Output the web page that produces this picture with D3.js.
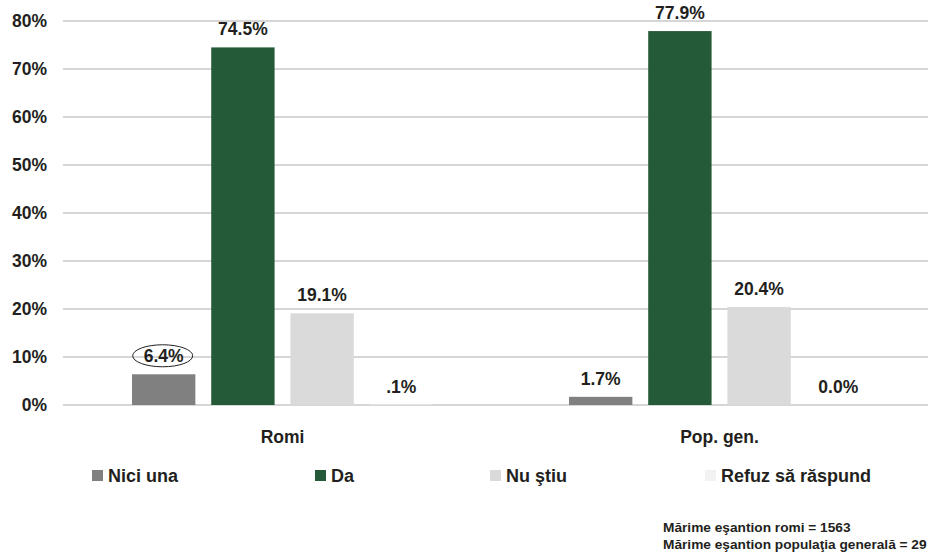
<!DOCTYPE html>
<html>
<head>
<meta charset="utf-8">
<script src="https://cdn.jsdelivr.net/npm/d3@7"></script>
<style>
  html, body { margin: 0; padding: 0; background: #fff; }
  svg { display: block; font-family: "Liberation Sans", Arial, sans-serif; font-weight: bold; }
</style>
</head>
<body>
<svg id="chart" width="928" height="557"></svg>
<script>
// Categories and series
const categories = ["Romi", "Pop. gen."];
const seriesNames = ["Nici una", "Da", "Nu ştiu", "Refuz să răspund"];
const seriesColors = ["#808080", "#245a37", "#d9dad9", "#f2f2f2"];
const niciUna = [6.4, 1.7];
const da = [74.5, 77.9];
const nuStiu = [19.1, 20.4];
const refuz = [0.1, 0.0];
const valueLabels = [["6.4%", "74.5%", "19.1%", ".1%"], ["1.7%", "77.9%", "20.4%", "0.0%"]];
const yTicks = [0, 10, 20, 30, 40, 50, 60, 70, 80];
const footnotes = ["Mărime eşantion romi = 1563", "Mărime eşantion populaţia generală = 29"];

const seriesValues = [niciUna, da, nuStiu, refuz];

const svg = d3.select("#chart");
const plot = { left: 64, right: 938, top: 21, bottom: 405 };

const y = d3.scaleLinear().domain([0, 80]).range([plot.bottom, plot.top]);
const x0 = d3.scaleBand().domain(categories).range([plot.left, plot.right]).paddingInner(0).paddingOuter(0);
const x1 = d3.scaleBand().domain(seriesNames).range([68, x0.bandwidth() - 68]).paddingInner(0.2).paddingOuter(0);

// Gridlines
svg.append("g").selectAll("line").data(yTicks).join("line")
  .attr("x1", 63).attr("x2", 928)
  .attr("y1", d => y(d)).attr("y2", d => y(d))
  .attr("stroke", "#c8c8c8").attr("stroke-width", 1.5);

// Y axis labels
const yAxis = d3.axisLeft(y).tickValues(yTicks).tickFormat(d => d + "%").tickSize(0).tickPadding(0);
const yG = svg.append("g").attr("transform", "translate(47,0)").call(yAxis);
yG.select(".domain").remove();
yG.selectAll("text").attr("font-size", 17.5).attr("fill", "#231f20")
  .attr("font-family", "'Liberation Sans', Arial, sans-serif").attr("font-weight", "bold");

// Bars
const groups = svg.append("g").selectAll("g").data(categories).join("g")
  .attr("transform", d => `translate(${x0(d)},0)`);

groups.each(function(cat, ci) {
  const g = d3.select(this);
  seriesNames.forEach((s, si) => {
    const v = seriesValues[si][ci];
    g.append("rect")
      .attr("x", x1(s)).attr("width", x1.bandwidth())
      .attr("y", y(v)).attr("height", y(0) - y(v))
      .attr("fill", seriesColors[si]);
    const lx = x1(s) + x1.bandwidth() / 2;
    const ly = y(v) - 12;
    g.append("text")
      .attr("x", lx).attr("y", ly)
      .attr("text-anchor", "middle").attr("font-size", 17.5).attr("fill", "#231f20")
      .text(valueLabels[ci][si]);
    if (ci === 0 && si === 0) {
      g.append("ellipse")
        .attr("cx", lx - 1).attr("cy", ly - 6.5).attr("rx", 30).attr("ry", 11)
        .attr("fill", "none").attr("stroke", "#231f20").attr("stroke-width", 1);
    }
  });
});

// Category labels
svg.append("g").selectAll("text").data(categories).join("text")
  .attr("x", d => x0(d) + x0.bandwidth() / 2).attr("y", 443)
  .attr("text-anchor", "middle").attr("font-size", 17.5).attr("fill", "#231f20")
  .text(d => d);

// Legend
const legendX = [92, 315, 490, 705];
const legend = svg.append("g").selectAll("g").data(seriesNames).join("g")
  .attr("transform", (d, i) => `translate(${legendX[i]},470)`);
legend.append("rect").attr("width", 11).attr("height", 11).attr("fill", (d, i) => seriesColors[i]);
legend.append("text").attr("x", 16).attr("y", 12).attr("font-size", 18).attr("fill", "#231f20").text(d => d);

// Footnotes
svg.append("g").selectAll("text").data(footnotes).join("text")
  .attr("x", 663).attr("y", (d, i) => 532 + i * 17)
  .attr("font-size", 13.7).attr("fill", "#231f20").text(d => d);
</script>
</body>
</html>
